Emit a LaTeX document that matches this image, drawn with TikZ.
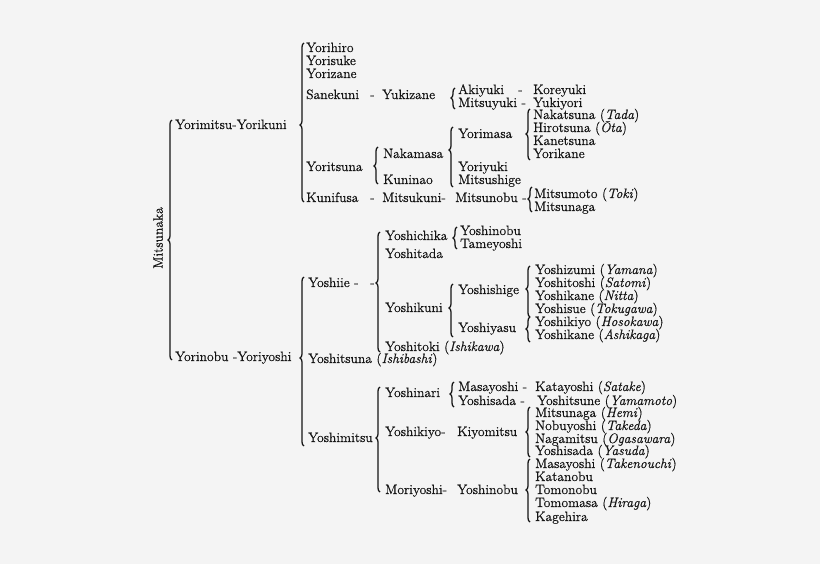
\documentclass[tikz,border=0pt]{standalone}
\usepackage{fontspec}
\setmainfont{Latin Modern Roman}[FakeBold=0.6]
\usetikzlibrary{decorations.pathreplacing}
\definecolor{bgc}{HTML}{F4F4F4}
\definecolor{ink}{HTML}{141414}
\newcommand\gbrace[4]{% hook x, top, bottom, tip
  \pgfmathsetmacro\gasp{(#3-#4)/(#3-#2)}%
  \draw[brc, decoration={brace, amplitude=4pt, aspect=\gasp}, decorate] (#1,#3) -- (#1,#2);}
\begin{document}
\begin{tikzpicture}[x=1pt, y=-1pt,
  lbl/.style={anchor=base west, inner sep=0pt, text=ink, font=\fontsize{13.6}{13.6}\selectfont},
  brc/.style={draw=ink, line width=1.25pt}]
\fill[bgc] (0,0) rectangle (820,564);
\useasboundingbox (0,0) rectangle (820,564);
% root
\node[lbl, rotate=90, anchor=center] (mitsunaka) at (158,238) {Mitsunaka};
\gbrace{172}{120}{360}{240}
\node[lbl] (yorimitsu) at (175,129) {Yorimitsu-Yorikuni};
\node[lbl] (yorinobu) at (175,361) {Yorinobu -Yoriyoshi};
% Yorimitsu branch
\gbrace{304}{43}{202}{125}
\node[lbl] (yorihiro) at (306,52) {Yorihiro};
\node[lbl] (yorisuke) at (306,65) {Yorisuke};
\node[lbl] (yorizane) at (306,78) {Yorizane};
\node[lbl] (sanekuni) at (306,99) {Sanekuni};
\node[lbl] (d1) at (370,99) {-};
\node[lbl] (yukizane) at (382,99) {Yukizane};
\gbrace{455}{88}{109}{98}
\node[lbl] (akiyuki) at (458,94) {Akiyuki};
\node[lbl] (d2) at (518,94) {-};
\node[lbl] (koreyuki) at (533,94) {Koreyuki};
\node[lbl] (mitsuyuki) at (458,107) {Mitsuyuki -};
\node[lbl] (yukiyori) at (533,107) {Yukiyori};
\node[lbl] (yoritsuna) at (306,171) {Yoritsuna};
\gbrace{378}{147}{184}{166}
\node[lbl] (nakamasa) at (383,158) {Nakamasa};
\node[lbl] (kuninao) at (383,184) {Kuninao};
\gbrace{453}{127}{187}{150}
\node[lbl] (yorimasa) at (458,138) {Yorimasa};
\node[lbl] (yoriyuki) at (458,171) {Yoriyuki};
\node[lbl] (mitsushige) at (458,184) {Mitsushige};
\gbrace{530}{109}{160}{134}
\node[lbl] (nakatsuna) at (533,119) {Nakatsuna (\textit{Tada})};
\node[lbl] (hirotsuna) at (533,132) {Hirotsuna (\textit{Ōta})};
\node[lbl] (kanetsuna) at (533,145) {Kanetsuna};
\node[lbl] (yorikane) at (533,158) {Yorikane};
\node[lbl] (kunifusa) at (306,202) {Kunifusa};
\node[lbl] (d3) at (370,202) {-};
\node[lbl] (mitsukuni) at (382,202) {Mitsukuni-};
\node[lbl] (mitsunobu) at (455,202) {Mitsunobu -};
\gbrace{532}{187}{212}{199}
\node[lbl] (mitsumoto) at (534,198) {Mitsumoto (\textit{Toki})};
\node[lbl] (mitsunaga) at (534,211) {Mitsunaga};
% Yoriyoshi branch
\gbrace{304}{277}{446}{358}
\node[lbl] (yoshiie) at (308,287) {Yoshiie -};
\node[lbl] (d4) at (370,287) {-};
\gbrace{380}{232}{352}{283}
\node[lbl] (yoshichika) at (385,240) {Yoshichika};
\gbrace{457}{227}{249}{238}
\node[lbl] (yoshinobuA) at (460,235) {Yoshinobu};
\node[lbl] (tameyoshi) at (460,248) {Tameyoshi};
\node[lbl] (yoshitada) at (385,258) {Yoshitada};
\node[lbl] (yoshikuni) at (385,312) {Yoshikuni};
\gbrace{453}{284}{337}{308}
\node[lbl] (yoshishige) at (458,294) {Yoshishige};
\node[lbl] (yoshiyasu) at (458,332) {Yoshiyasu};
\gbrace{530}{266}{317}{289}
\node[lbl] (yoshizumi) at (535,274) {Yoshizumi (\textit{Yamana})};
\node[lbl] (yoshitoshi) at (535,287) {Yoshitoshi (\textit{Satomi})};
\node[lbl] (yoshikaneN) at (535,300) {Yoshikane (\textit{Nitta})};
\node[lbl] (yoshisue) at (535,313) {Yoshisue (\textit{Tokugawa})};
\gbrace{530}{317}{342}{329}
\node[lbl] (yoshikiyoH) at (535,326) {Yoshikiyo (\textit{Hosokawa})};
\node[lbl] (yoshikaneA) at (535,339) {Yoshikane (\textit{Ashikaga})};
\node[lbl] (yoshitoki) at (385,351) {Yoshitoki (\textit{Ishikawa})};
\node[lbl] (yoshitsuna) at (308,363) {Yoshitsuna (\textit{Ishibashi})};
\node[lbl] (yoshimitsu) at (308,442) {Yoshimitsu};
\gbrace{380}{387}{492}{438}
\node[lbl] (yoshinari) at (385,397) {Yoshinari};
\gbrace{454}{382}{407}{394}
\node[lbl] (masayoshiA) at (458,391) {Masayoshi -};
\node[lbl] (katayoshi) at (535,391) {Katayoshi (\textit{Satake})};
\node[lbl] (yoshisadaA) at (458,405) {Yoshisada -};
\node[lbl] (yoshitsune) at (537,405) {Yoshitsune (\textit{Yamamoto})};
\node[lbl] (yoshikiyo) at (385,436) {Yoshikiyo-};
\node[lbl] (kiyomitsu) at (457,436) {Kiyomitsu};
\gbrace{530}{407}{457}{432}
\node[lbl] (mitsunagaH) at (535,417) {Mitsunaga (\textit{Hemi})};
\node[lbl] (nobuyoshi) at (535,430) {Nobuyoshi (\textit{Takeda})};
\node[lbl] (nagamitsu) at (535,443) {Nagamitsu (\textit{Ogasawara})};
\node[lbl] (yoshisadaY) at (535,455) {Yoshisada (\textit{Yasuda})};
\node[lbl] (moriyoshi) at (385,494) {Moriyoshi-};
\node[lbl] (yoshinobuB) at (457,494) {Yoshinobu};
\gbrace{530}{459}{522}{490}
\node[lbl] (masayoshiT) at (535,468) {Masayoshi (\textit{Takenouchi})};
\node[lbl] (katanobu) at (535,481) {Katanobu};
\node[lbl] (tomonobu) at (535,494) {Tomonobu};
\node[lbl] (tomomasa) at (535,507) {Tomomasa (\textit{Hiraga})};
\node[lbl] (kagehira) at (535,521) {Kagehira};
\end{tikzpicture}
\end{document}
